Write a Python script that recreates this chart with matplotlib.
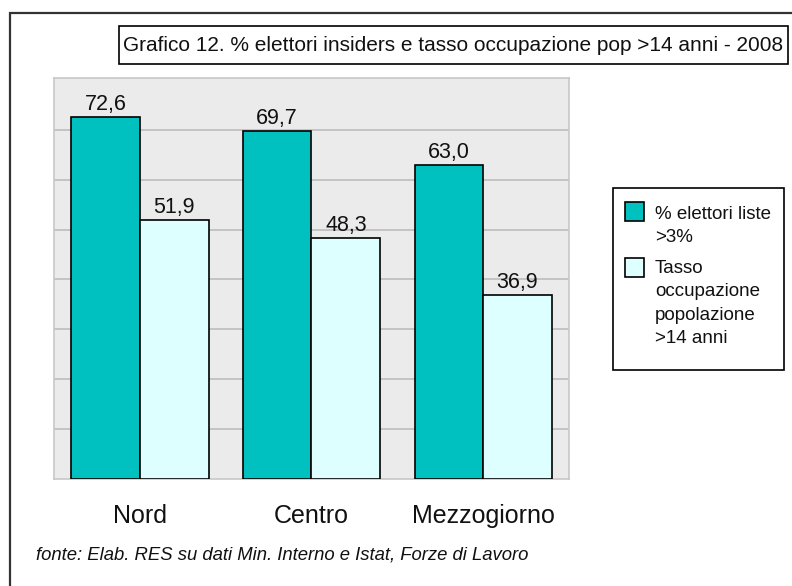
import matplotlib
matplotlib.use("Agg")
import matplotlib.pyplot as plt
from matplotlib.patches import Rectangle
import numpy as np

categories = ["Nord", "Centro", "Mezzogiorno"]
elettori = [72.6, 69.7, 63.0]
occupazione = [51.9, 48.3, 36.9]
series_names = ["% elettori liste\n>3%", "Tasso\noccupazione\npopolazione\n>14 anni"]
title = "Grafico 12. % elettori insiders e tasso occupazione pop >14 anni - 2008"
footer = "fonte: Elab. RES su dati Min. Interno e Istat, Forze di Lavoro"

plt.rcParams['font.family'] = ['Liberation Sans', 'DejaVu Sans']

W, H = 792, 586
fig = plt.figure(figsize=(W/100, H/100), dpi=100)
fig.patch.set_facecolor('white')

def fx(px): return px / W
def fy(py): return 1 - py / H

def frect(x0, y0, x1, y1, **kw):
    fig.add_artist(Rectangle((fx(x0), fy(y1)), (x1 - x0) / W, (y1 - y0) / H,
                             transform=fig.transFigure, clip_on=False, **kw))

# outer frame
frect(10, 13, 810, 620, fill=False, edgecolor='#333333', linewidth=1.6)

ax = fig.add_axes([fx(54), fy(479), fx(569-54), (479-78)/H])
ax.set_facecolor('#EBEBEB')
x = np.arange(len(categories))
w = 0.4
teal = '#00C0C0'
light = '#DDFFFF'
ax.bar(x - w/2, elettori, w, color=teal, edgecolor='black', linewidth=1.2, zorder=3)
ax.bar(x + w/2, occupazione, w, color=light, edgecolor='black', linewidth=1.2, zorder=3)
ax.set_xlim(-0.5, 2.5)
ax.set_ylim(0, 80.4)
ax.set_yticks(np.arange(10, 80, 10))
ax.yaxis.grid(True, color='#BDBDBD', linewidth=1.2, zorder=0)
ax.tick_params(axis='y', length=0, labelleft=False)
ax.set_xticks(x)
ax.set_xticklabels(categories, fontsize=18, color='#111111')
ax.tick_params(axis='x', length=0, pad=18)
for s in ax.spines.values():
    s.set_color('#C8C8C8')
    s.set_linewidth(1.2)

for xs, vals in ((x - w/2, elettori), (x + w/2, occupazione)):
    for xi, v in zip(xs, vals):
        ax.annotate(f"{v:.1f}".replace('.', ','), (xi, v), xytext=(0, 1.5),
                    textcoords='offset points', ha='center', va='bottom',
                    fontsize=15.5, color='#111111', zorder=4)

# title box
frect(119, 26, 788, 64, facecolor='white', edgecolor='black', linewidth=1.2)
fig.text(fx(453.5), fy(45.5), title, ha='center', va='center', fontsize=15, color='#111111')

# legend (manual, top-aligned like the original)
frect(613, 188, 784, 370, facecolor='white', edgecolor='black', linewidth=1.2)
frect(625, 202, 644, 221, facecolor=teal, edgecolor='black', linewidth=1.2)
frect(625, 258, 644, 277, facecolor=light, edgecolor='black', linewidth=1.2)
fig.text(fx(655), fy(206), series_names[0], ha='left', va='top', fontsize=13.5,
         color='#111111', linespacing=1.5)
fig.text(fx(655), fy(260), series_names[1], ha='left', va='top', fontsize=13.5,
         color='#111111', linespacing=1.5)

fig.text(fx(36), fy(555), footer, ha='left', va='center', fontsize=13.3, style='italic', color='#111111')

fig.savefig('out.png', dpi=100)
